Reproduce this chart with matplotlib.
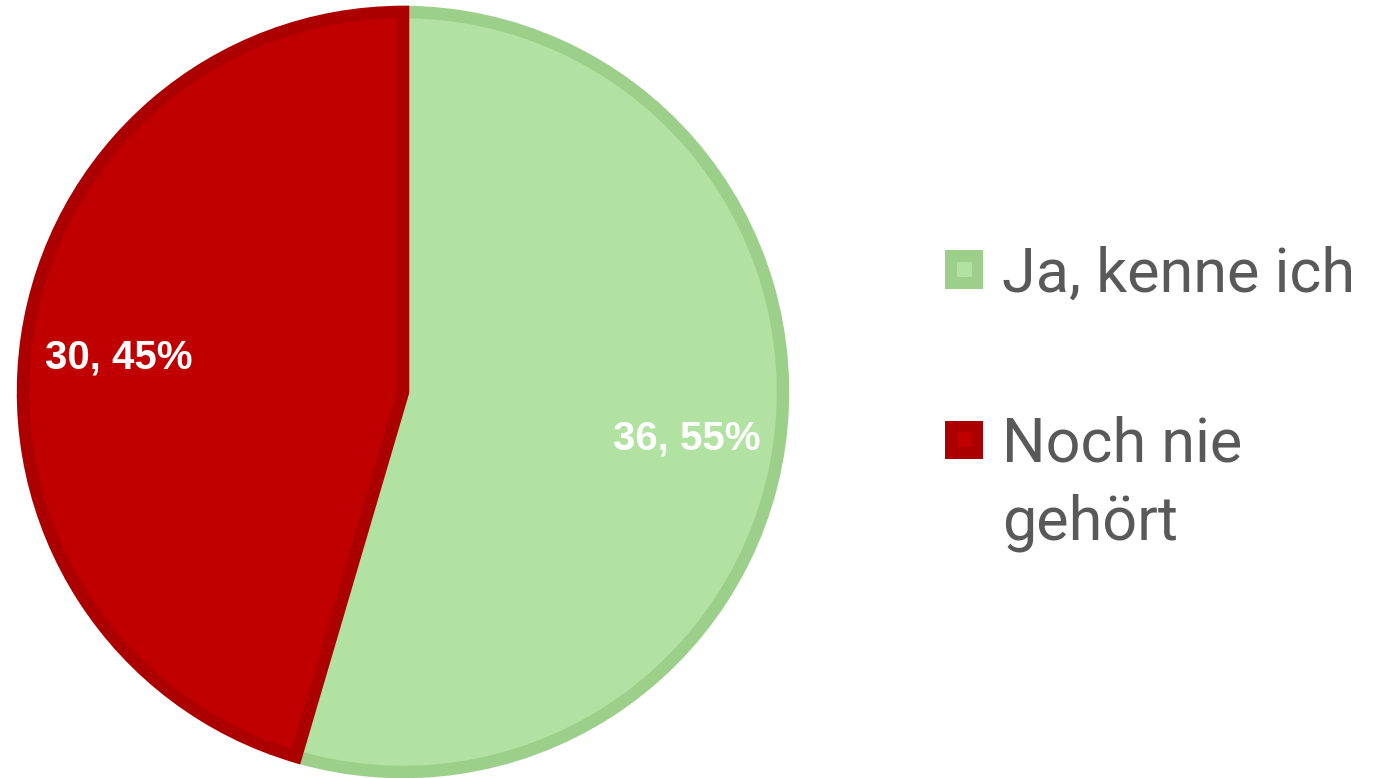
import matplotlib
matplotlib.use("Agg")
import matplotlib.pyplot as plt
from matplotlib.patches import Rectangle
from matplotlib.transforms import ScaledTranslation

categories = ["Ja, kenne ich", "Noch nie\ngehört"]
values = [36, 30]
fill_colors = ["#B2E2A1", "#C00000"]
edge_colors = ["#9CD08A", "#AC0000"]

W, H = 1383, 778
fig = plt.figure(figsize=(W / 100, H / 100), dpi=100)
fig.patch.set_facecolor("white")

cx, cy, r = 403, 392, 380
ax = fig.add_axes([(cx - r) / W, (H - cy - r) / H, 2 * r / W, 2 * r / H])
ax.set_aspect("equal")
ax.axis("off")

total = sum(values)


def fmt(pct):
    v = int(round(pct * total / 100.0))
    return f"{v}, {pct:.0f}%"


wedges, texts, autotexts = ax.pie(
    values, startangle=90, counterclock=False, radius=1.0,
    colors=fill_colors, autopct=fmt, pctdistance=0.755,
    wedgeprops=dict(linewidth=9, linestyle="solid"),
    textprops=dict(color="white", fontsize=29, fontweight="bold",
                   family="Liberation Sans"))
for w, ec in zip(wedges, edge_colors):
    w.set_edgecolor(ec)
    w.set_clip_path(w)
for t in autotexts:
    t.set_transform(ax.transData + ScaledTranslation(0, -0.06, fig.dpi_scale_trans))
ax.set_xlim(-1, 1)
ax.set_ylim(-1, 1)

# Legend drawn manually
leg_font = dict(family="Roboto", fontsize=44, color="#595959")
marker_cy = [269.5, 439.5]
first_baseline = [292, 462]
line_gap = 78
s = 38
inner = 15
for i, (lab, fc, ec) in enumerate(zip(categories, fill_colors, edge_colors)):
    y = marker_cy[i]
    fig.patches.append(Rectangle((945 / W, (H - y - s / 2) / H), s / W, s / H,
                                 transform=fig.transFigure, facecolor=ec,
                                 edgecolor="none", figure=fig))
    fig.patches.append(Rectangle(((964 - inner / 2) / W, (H - y - inner / 2) / H),
                                 inner / W, inner / H,
                                 transform=fig.transFigure, facecolor=fc,
                                 edgecolor="none", figure=fig))
    for k, line in enumerate(lab.split("\n")):
        fig.text(1002 / W, (H - first_baseline[i] - k * line_gap) / H, line,
                 ha="left", va="baseline", **leg_font)

fig.savefig("out.png", dpi=100, facecolor="white")
